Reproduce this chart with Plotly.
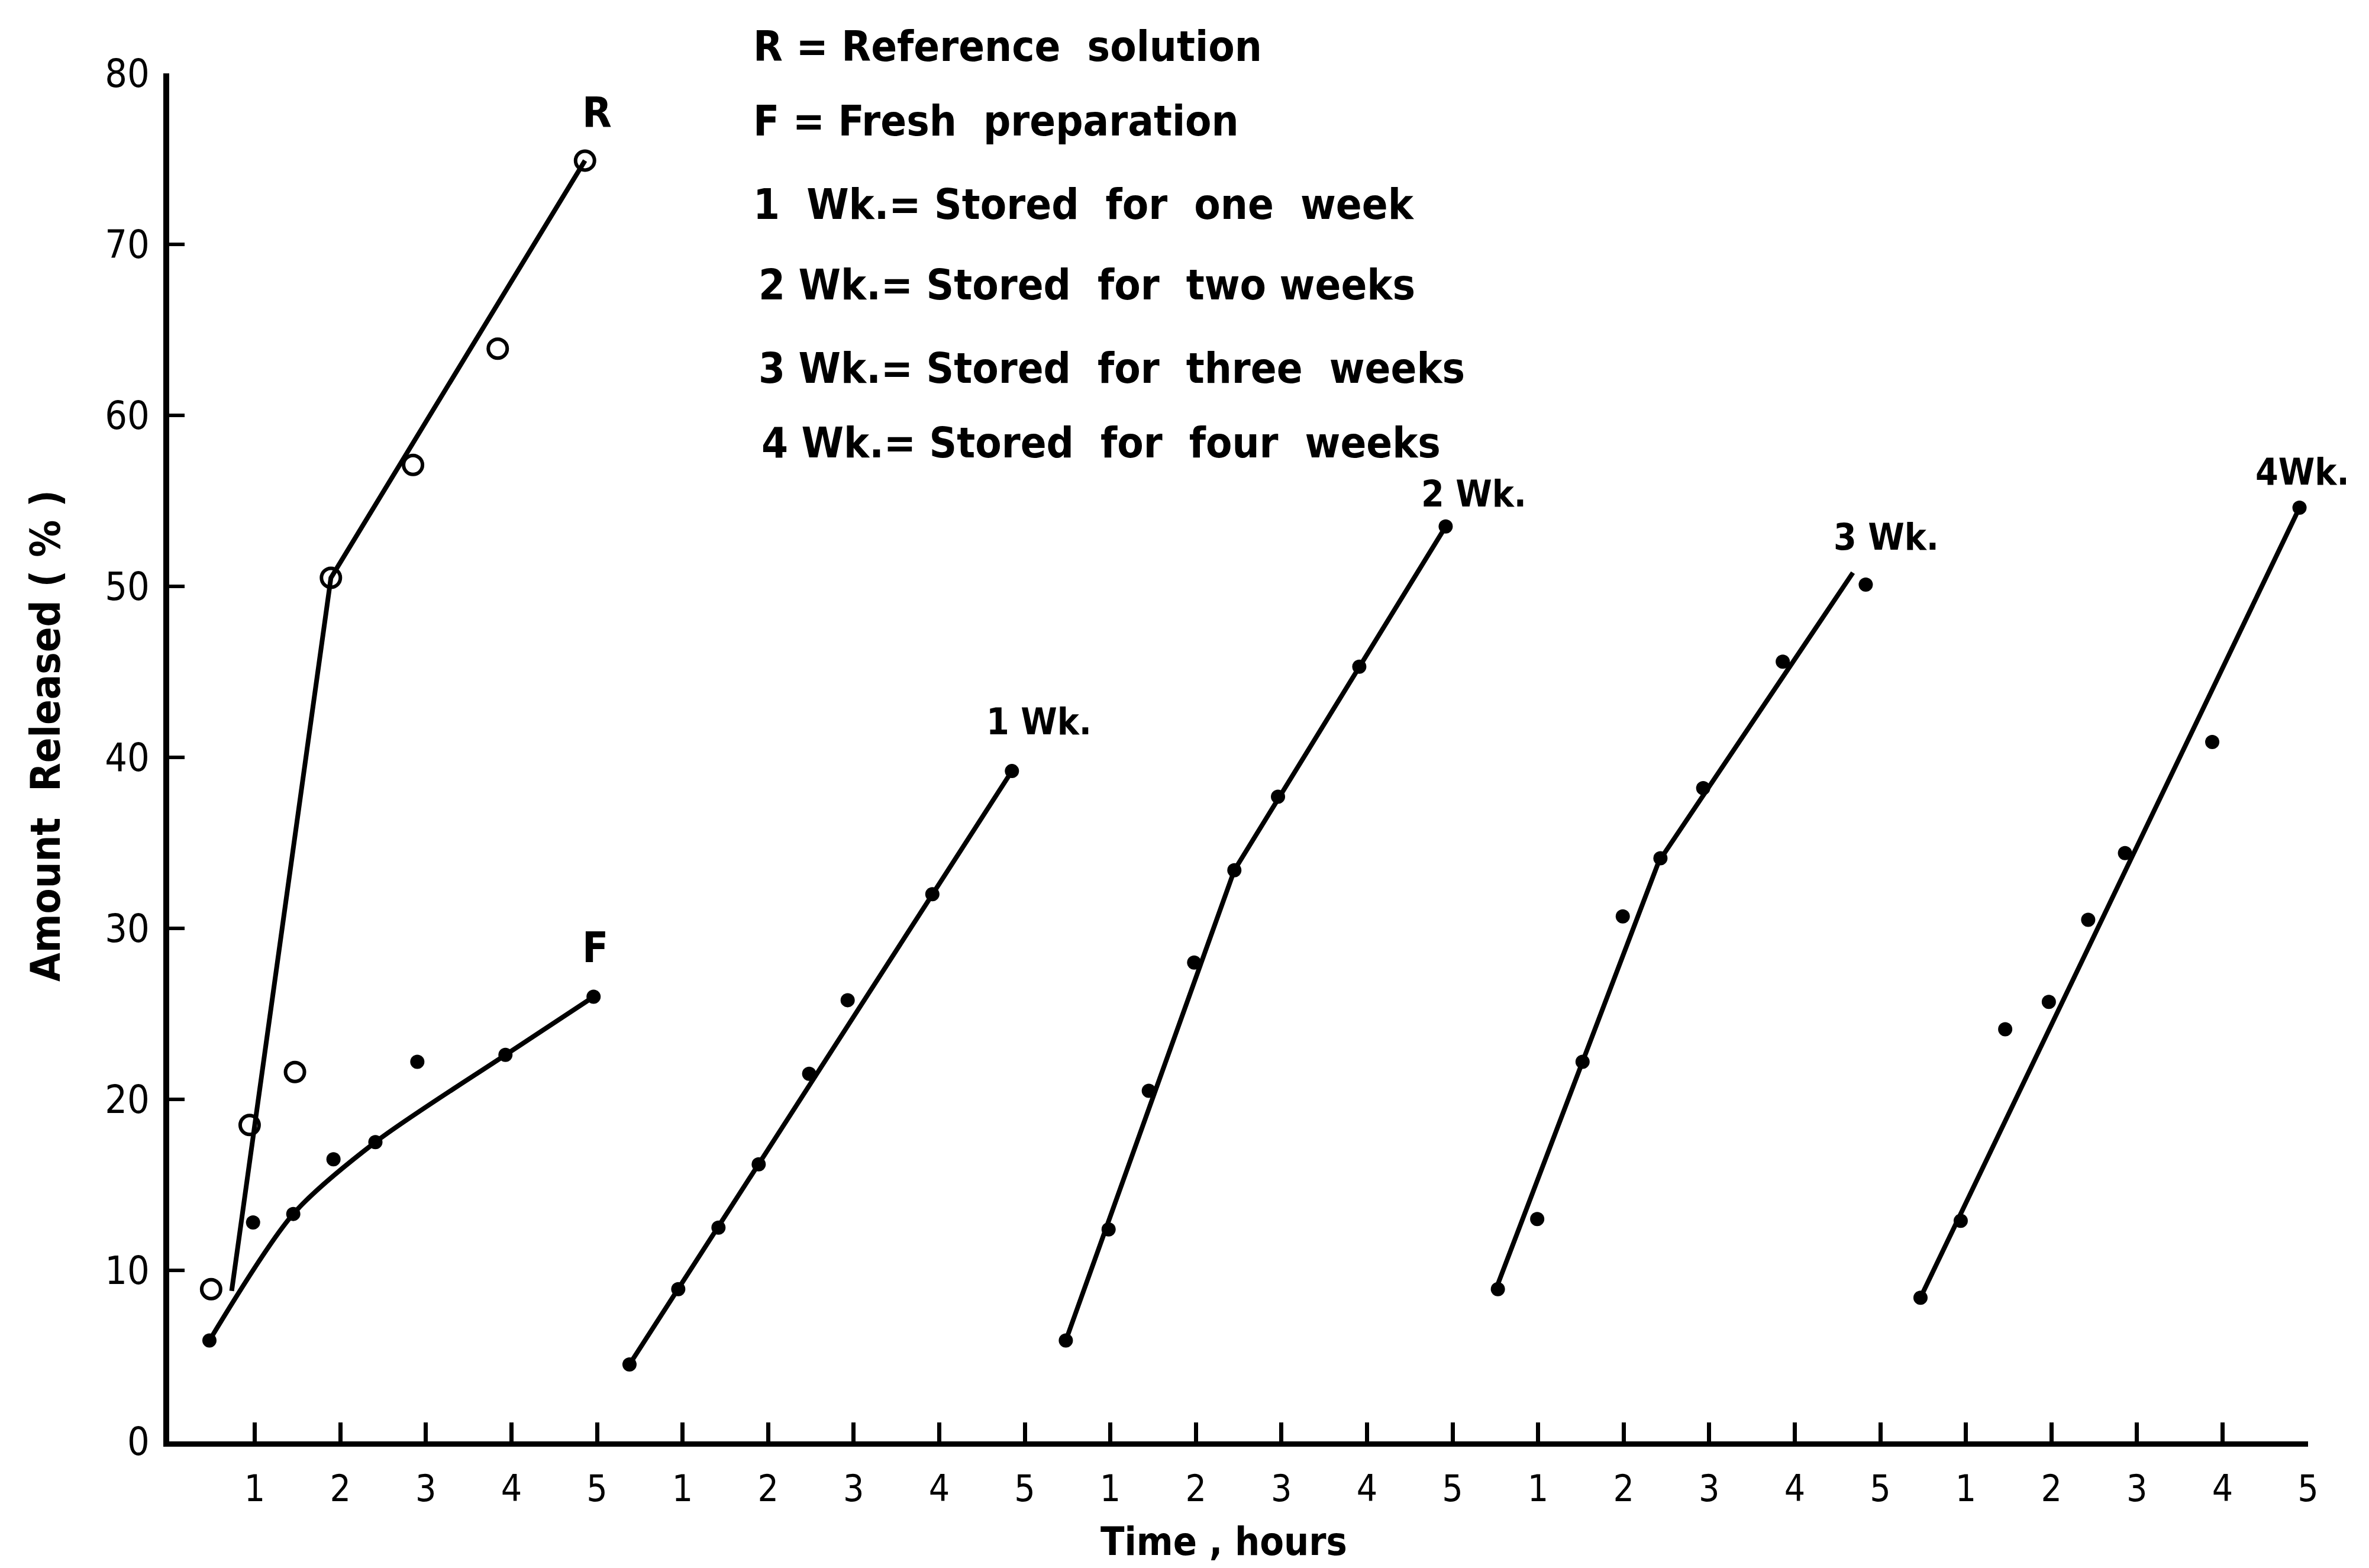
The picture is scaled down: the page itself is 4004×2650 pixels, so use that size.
import plotly.graph_objects as go

W, H = 4004, 2650
PANEL_HOURS = 5  # each preparation gets its own 0-5 h stretch of the time axis

# ---- data: time (h, within each panel) and amount released (%) ----
# R: reference solution (open circles), panel 0
t_ref = [0.49, 0.94, 1.47, 1.89, 2.85, 3.84, 4.86]
rel_ref = [8.9, 18.5, 21.6, 50.5, 57.1, 63.9, 74.9]
fit_ref_t = [0.73, 1.89, 4.86]
fit_ref_y = [8.8, 50.5, 74.9]

# F: fresh preparation, panel 0
t_fresh = [0.47, 0.98, 1.45, 1.92, 2.41, 2.90, 3.93, 4.96]
rel_fresh = [5.9, 12.8, 13.3, 16.5, 17.5, 22.2, 22.6, 26.0]
fit_fresh_t = [0.47, 1.45, 2.41, 3.93, 4.96]
fit_fresh_y = [5.9, 13.3, 17.5, 22.6, 26.0]

# 1 Wk: stored for one week, panel 1
t_wk1 = [0.38, 0.95, 1.42, 1.89, 2.48, 2.93, 3.92, 4.85]
rel_wk1 = [4.5, 8.9, 12.5, 16.2, 21.5, 25.8, 32.0, 39.2]
fit_wk1_t = [0.38, 4.85]
fit_wk1_y = [4.5, 39.2]

# 2 Wk: stored for two weeks, panel 2
t_wk2 = [0.48, 0.98, 1.45, 1.98, 2.45, 2.96, 3.91, 4.92]
rel_wk2 = [5.9, 12.4, 20.5, 28.0, 33.4, 37.7, 45.3, 53.5]
fit_wk2_t = [0.48, 2.45, 4.92]
fit_wk2_y = [5.9, 33.4, 53.5]

# 3 Wk: stored for three weeks, panel 3
t_wk3 = [0.53, 0.99, 1.52, 1.99, 2.43, 2.93, 3.86, 4.83]
rel_wk3 = [8.9, 13.0, 22.2, 30.7, 34.1, 38.2, 45.6, 50.1]
fit_wk3_t = [0.50, 2.41, 4.68]
fit_wk3_y = [8.8, 33.9, 50.8]

# 4 Wk: stored for four weeks, panel 4
t_wk4 = [0.47, 0.94, 1.46, 1.97, 2.43, 2.86, 3.88, 4.90]
rel_wk4 = [8.4, 12.9, 24.1, 25.7, 30.5, 34.4, 40.9, 54.6]
fit_wk4_t = [0.45, 4.90]
fit_wk4_y = [8.2, 54.6]

hour_ticks = [1, 2, 3, 4, 5]
n_panels = 5
y_ticks = [0, 10, 20, 30, 40, 50, 60, 70, 80]

key_lines = [
    "R = Reference  solution",
    "F = Fresh  preparation",
    "1  Wk.= Stored  for  one  week",
    "2 Wk.= Stored  for  two weeks",
    "3 Wk.= Stored  for  three  weeks",
    "4 Wk.= Stored  for  four  weeks",
]

FONT = "DejaVu Sans Condensed, Liberation Sans Narrow, Liberation Sans, sans-serif"
INK = "black"


def shift(ts, panel):
    return [t + PANEL_HOURS * panel for t in ts]


def font(size, weight="bold"):
    return dict(family=FONT, size=size, color=INK, weight=weight)


fig = go.Figure()

series = [
    (0, t_fresh, rel_fresh, fit_fresh_t, fit_fresh_y, "spline"),
    (1, t_wk1, rel_wk1, fit_wk1_t, fit_wk1_y, "linear"),
    (2, t_wk2, rel_wk2, fit_wk2_t, fit_wk2_y, "linear"),
    (3, t_wk3, rel_wk3, fit_wk3_t, fit_wk3_y, "linear"),
    (4, t_wk4, rel_wk4, fit_wk4_t, fit_wk4_y, "linear"),
]

# reference solution: fitted line + open circles
fig.add_trace(go.Scatter(
    x=shift(fit_ref_t, 0), y=fit_ref_y, mode="lines",
    line=dict(color=INK, width=8), hoverinfo="skip", showlegend=False))
fig.add_trace(go.Scatter(
    x=shift(t_ref, 0), y=rel_ref, mode="markers",
    marker=dict(symbol="circle-open", size=32, color=INK, line=dict(width=6)),
    showlegend=False))

# preparations: fitted line + filled dots
for panel, ts, ys, fts, fys, shape in series:
    fig.add_trace(go.Scatter(
        x=shift(fts, panel), y=fys, mode="lines",
        line=dict(color=INK, width=8, shape=shape, smoothing=0.8),
        hoverinfo="skip", showlegend=False))
    fig.add_trace(go.Scatter(
        x=shift(ts, panel), y=ys, mode="markers",
        marker=dict(symbol="circle", size=24, color=INK),
        showlegend=False))

tickvals = [h + PANEL_HOURS * p for p in range(n_panels) for h in hour_ticks]
ticktext = [str(h) for p in range(n_panels) for h in hour_ticks]

# curve labels
curve_labels = [
    ("R", 5.0, 77.7, "center", 72),
    ("F", 4.98, 28.9, "center", 72),
    ("1 Wk.", 9.54, 42.1, "left", 62),
    ("2 Wk.", 14.62, 55.4, "left", 62),
    ("3 Wk.", 19.44, 52.9, "left", 62),
    ("4Wk.", 24.37, 56.7, "left", 62),
]
annotations = []
for txt, x, y, anchor, size in curve_labels:
    annotations.append(dict(
        text=txt, x=x, y=y, xref="x", yref="y", showarrow=False,
        xanchor=anchor, yanchor="middle", font=font(size)))

# key text block
key_y = [1.0199, 0.9654, 0.9044, 0.8456, 0.7846, 0.7301]
key_x = [0.2725, 0.2725, 0.2725, 0.2750, 0.2750, 0.2764]
for txt, kx, ky in zip(key_lines, key_x, key_y):
    annotations.append(dict(
        text=txt, x=kx, y=ky, xref="paper", yref="paper", showarrow=False,
        xanchor="left", yanchor="middle", font=font(72)))

# axis titles
annotations.append(dict(
    text="Amount  Released ( % )", x=-0.0578, y=0.5156, xref="paper", yref="paper",
    showarrow=False, textangle=-90, xanchor="center", yanchor="middle",
    font=font(70)))
annotations.append(dict(
    text="Time , hours", x=0.493, y=-0.0735, xref="paper", yref="paper",
    showarrow=False, xanchor="center", yanchor="middle",
    font=font(66)))

fig.update_layout(
    width=W, height=H,
    margin=dict(l=286, r=103, t=124, b=214),
    paper_bgcolor="white", plot_bgcolor="white",
    showlegend=False,
    annotations=annotations,
    xaxis=dict(
        range=[0, PANEL_HOURS * n_panels], tickvals=tickvals, ticktext=ticktext,
        showgrid=False, zeroline=False, showline=True, linecolor=INK, linewidth=9,
        ticks="inside", ticklen=32, tickwidth=7, tickcolor=INK,
        ticklabelstandoff=18,
        tickfont=font(62, "normal")),
    yaxis=dict(
        range=[0, 80], tickvals=y_ticks,
        showgrid=False, zeroline=False, showline=True, linecolor=INK, linewidth=10,
        ticks="inside", ticklen=26, tickwidth=6, tickcolor=INK,
        ticklabelstandoff=10,
        tickfont=font(66, "normal")),
)

fig.write_html("out.html")
